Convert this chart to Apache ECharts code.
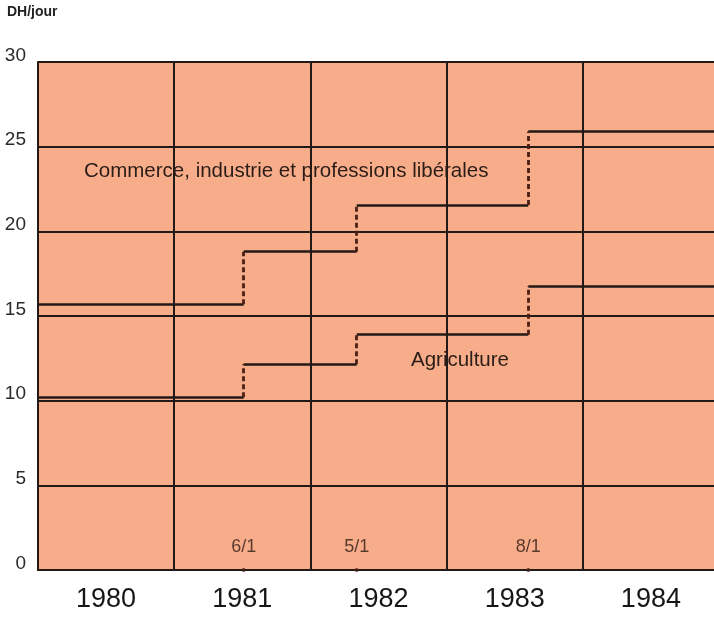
<!DOCTYPE html>
<html>
<head>
<meta charset="utf-8">
<script src="https://cdn.jsdelivr.net/npm/echarts@6/dist/echarts.min.js"></script>
<style>
  html, body { margin: 0; padding: 0; background: #fff; }
  #chart { width: 714px; height: 622px; }
</style>
</head>
<body>
<div id="chart"></div>
<script>
// years shown under the columns
const years = ['1980', '1981', '1982', '1983', '1984']
// dates (decimal years) when the daily wage changed
const stepYears = [1980, 1981.51, 1982.34, 1983.6, 1985]
const changeLabels = ['6/1', '5/1', '8/1']
// DH per day
const commerce = [15.7, 18.8, 21.55, 25.9]
const agriculture = [10.2, 12.15, 13.9, 16.75]

const ink = '#221a16'
const brown = '#4a2014'
const font = 'Liberation Sans, Arial'

function flat(vals) {
  return vals.map((v, i) => ({ coords: [[stepYears[i], v], [stepYears[i + 1], v]] }))
}
function risers(vals) {
  const out = []
  for (let i = 1; i < vals.length; i++) out.push({ coords: [[stepYears[i], vals[i - 1]], [stepYears[i], vals[i]]] })
  return out
}

const chart = echarts.init(document.getElementById('chart'))
chart.setOption({
  animation: false,
  backgroundColor: '#fff',
  grid: {
    left: 38, top: 62, width: 681, bottom: 52, containLabel: false, outerBoundsMode: 'none',
    backgroundColor: '#f8ad8a', show: true, borderWidth: 0
  },
  xAxis: [
    { type: 'value', min: 1980, max: 1985, show: false },
    {
      type: 'category', data: years, boundaryGap: true, position: 'bottom',
      axisLine: { lineStyle: { color: ink, width: 2 } },
      axisTick: { show: false },
      axisLabel: { fontSize: 27, color: '#161616', margin: 16, fontFamily: font },
      splitLine: { show: true, lineStyle: { color: ink, width: 2 } }
    }
  ],
  yAxis: {
    type: 'value', min: 0, max: 30, interval: 5,
    axisLine: { show: true, lineStyle: { color: ink, width: 2 } },
    axisTick: { show: false },
    axisLabel: { fontSize: 19, color: '#2a2a2a', margin: 12, verticalAlign: 'bottom', lineHeight: 13, fontFamily: font },
    splitLine: { lineStyle: { color: ink, width: 2 } }
  },
  series: [
    {
      type: 'lines', coordinateSystem: 'cartesian2d', xAxisIndex: 0,
      data: flat(commerce).concat(flat(agriculture)),
      lineStyle: { color: ink, width: 2.5, opacity: 1 }, z: 5
    },
    {
      type: 'lines', coordinateSystem: 'cartesian2d', xAxisIndex: 0,
      data: risers(commerce).concat(risers(agriculture)),
      lineStyle: { color: brown, width: 2.8, type: [5, 3], opacity: 1 }, z: 5
    },
    {
      type: 'scatter', xAxisIndex: 0, symbol: 'circle', symbolSize: 4,
      itemStyle: { color: brown },
      data: changeLabels.map((t, i) => ({ value: [stepYears[i + 1], 0], label: { formatter: t } })),
      label: { show: true, position: 'top', distance: 12, fontSize: 18, color: '#2e1c14', fontFamily: font },
      z: 6
    }
  ],
  graphic: [
    { type: 'text', left: 7, top: 5, style: { text: 'DH/jour', font: 'bold 14px ' + font, fill: '#222' } },
    { type: 'text', left: 84, top: 161, style: { text: 'Commerce, industrie et professions libérales', font: '20.5px ' + font, fill: '#2a1d17' }, z: 10 },
    { type: 'text', left: 411, top: 350, style: { text: 'Agriculture', font: '20.5px ' + font, fill: '#2a1d17' }, z: 10 }
  ]
})
</script>
</body>
</html>
